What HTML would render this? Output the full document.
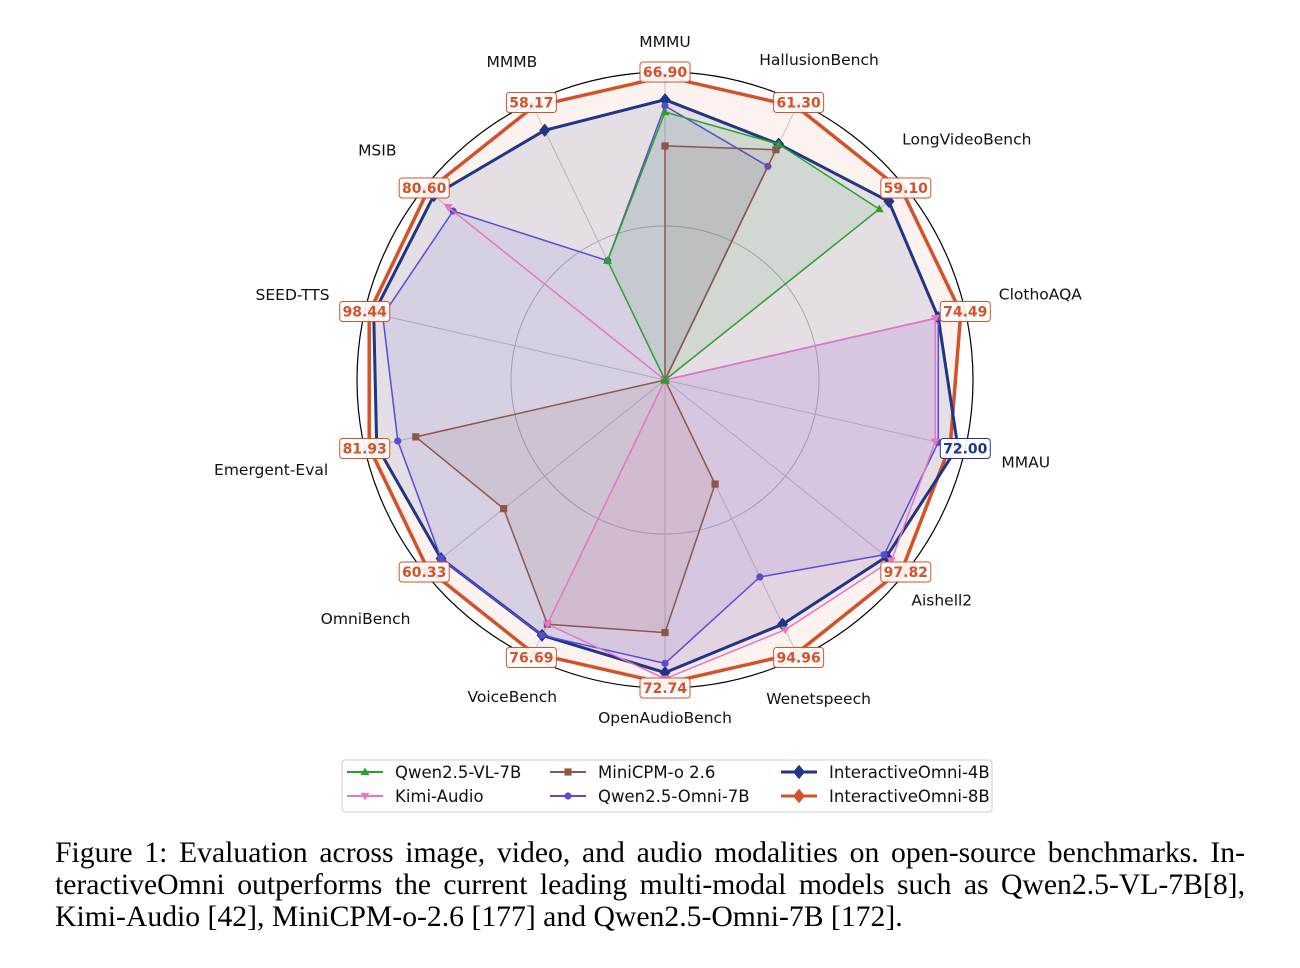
<!DOCTYPE html>
<html><head><meta charset="utf-8"><style>
body{margin:0;background:#fff;width:1300px;height:968px;overflow:hidden;position:relative}
#cap{position:absolute;left:55px;top:837px;width:1190px;font-family:"Liberation Serif",serif;font-size:29.7px;line-height:32px;color:#000}
#cap span{display:block;text-align:justify;text-align-last:justify;white-space:nowrap}
#cap span.last{text-align-last:left}
</style></head><body>
<svg id="chart" width="1300" height="830" style="position:absolute;left:0;top:0" font-family="DejaVu Sans, Liberation Sans, sans-serif"></svg>
<div id="cap"><span>Figure 1: Evaluation across image, video, and audio modalities on open-source benchmarks. In-</span><span>teractiveOmni outperforms the current leading multi-modal models such as Qwen2.5-VL-7B[8],</span><span class="last">Kimi-Audio [42], MiniCPM-o-2.6 [177] and Qwen2.5-Omni-7B [172].</span></div>
<script>
const categories=["MMMU","HallusionBench","LongVideoBench","ClothoAQA","MMAU","Aishell2","Wenetspeech","OpenAudioBench","VoiceBench","OmniBench","Emergent-Eval","SEED-TTS","MSIB","MMMB"];
const bestLabels=["66.90","61.30","59.10","74.49","72.00","97.82","94.96","72.74","76.69","60.33","81.93","98.44","80.60","58.17"];
const bestIs4B=[0,0,0,0,1,0,0,0,0,0,0,0,0,0];
const qwenVL=[0.87,0.85,0.89,0,0,0,0,0,0,0,0,0,0,0.43];
const kimi=[0,0,0,0.9,0.9,0.94,0.9,0.97,0.88,0,0,0,0.9,0];
const minicpm=[0.76,0.83,0,0,0,0,0.375,0.82,0.88,0.67,0.83,0,0,0];
const qwenOmni=[0.89,0.77,0,0.91,0.91,0.91,0.71,0.92,0.92,0.93,0.89,0.94,0.88,0.43];
const omni4b=[0.91,0.85,0.93,0.91,0.975,0.92,0.88,0.95,0.92,0.93,0.96,0.97,0.96,0.9];
const omni8b=[0.985,0.985,0.985,0.985,0.95,0.985,0.985,0.985,0.985,0.985,0.985,0.985,0.985,0.985];
const labelRadius=[338,355,386,385,370,354,354,338,352,383,404,382,368,353];
const series=[
 {name:"Qwen2.5-VL-7B",v:qwenVL,c:"#2ca02c",m:"tri-up",w:1.5},
 {name:"Kimi-Audio",v:kimi,c:"#e377c2",m:"tri-down",w:1.5},
 {name:"MiniCPM-o 2.6",v:minicpm,c:"#8c564b",m:"square",w:1.5},
 {name:"Qwen2.5-Omni-7B",v:qwenOmni,c:"#5a4bd1",m:"circle",w:1.5},
 {name:"InteractiveOmni-4B",v:omni4b,c:"#1f3585",m:"diamond",w:3},
 {name:"InteractiveOmni-8B",v:omni8b,c:"#d2522a",m:"diamond",w:3.5}];
const NS="http://www.w3.org/2000/svg",svg=document.getElementById('chart');
const cx=665,cy=380,R=308,N=categories.length;
const ang=i=>i*2*Math.PI/N;
const px=(i,v)=>cx+R*v*Math.sin(ang(i)), py=(i,v)=>cy-R*v*Math.cos(ang(i));
function mk(t,a,p){const e=document.createElementNS(NS,t);for(const k in a)e.setAttribute(k,a[k]);(p||svg).appendChild(e);return e;}
const g=mk('g',{});


mk('circle',{cx,cy,r:R*0.5,fill:'none',stroke:'#bbb','stroke-width':1},g);
for(let i=0;i<N;i++)mk('line',{x1:cx,y1:cy,x2:px(i,1),y2:py(i,1),stroke:'#ccc','stroke-width':1},g);
const oc=mk('circle',{cx,cy,r:R,fill:'none',stroke:'#000','stroke-width':1.2});


const pts=v=>v.map((d,i)=>px(i,d).toFixed(1)+','+py(i,d).toFixed(1)).join(' ');
series.slice().reverse().forEach(s=>{const f=mk('polygon',{points:pts(s.v),fill:s.c,'fill-opacity':s.name.endsWith('8B')?0.07:0.1,stroke:'none'});

});
function marker(p,m,x,y,c,s){s=s||4.5;
 if(m==='circle')return mk('circle',{cx:x,cy:y,r:s*0.8,fill:c},p);
 if(m==='square')return mk('rect',{x:x-s*0.8,y:y-s*0.8,width:s*1.6,height:s*1.6,fill:c},p);
 if(m==='tri-up')return mk('polygon',{points:`${x},${y-s} ${x-s},${y+s*0.7} ${x+s},${y+s*0.7}`,fill:c},p);
 if(m==='tri-down')return mk('polygon',{points:`${x},${y+s} ${x-s},${y-s*0.7} ${x+s},${y-s*0.7}`,fill:c},p);
 return mk('polygon',{points:`${x},${y-s*1.2} ${x+s},${y} ${x},${y+s*1.2} ${x-s},${y}`,fill:c},p);}
series.slice().reverse().forEach(s=>{const sg=mk('g',{});
 
 
 mk('polygon',{points:pts(s.v),fill:'none',stroke:s.c,'stroke-width':s.w,'stroke-linejoin':'round'},sg);
 s.v.forEach((d,i)=>{const mm=marker(sg,s.m,px(i,d),py(i,d),s.c,s.w>2?5.5:4.5);
  
  });});
categories.forEach((c,i)=>{const r=labelRadius[i];
 const t=mk('text',{x:cx+r*Math.sin(ang(i)),y:cy-r*Math.cos(ang(i))+5,'text-anchor':'middle','font-size':15.5,fill:'#111'});
 t.textContent=c;
 
 
 const bx=px(i,1),by=py(i,1),col=bestIs4B[i]?'#1f3585':'#d2522a';
 const bg=mk('g',{});
 
 
 mk('rect',{x:bx-25,y:by-10,width:50,height:20,rx:3,fill:'#fff',stroke:col,'stroke-width':1,'fill-opacity':0.9},bg);
 const vt=mk('text',{x:bx,y:by+5,'text-anchor':'middle','font-size':14,'font-weight':'bold',fill:col},bg);vt.textContent=bestLabels[i];});
const lg=mk('g',{});


mk('rect',{x:342,y:760,width:650,height:52,rx:3,fill:'#fff',stroke:'#ccc'},lg);
const colX=[347,550,781];
series.forEach((s,k)=>{const c=Math.floor(k/2),r=k%2;
 const x=colX[c],y=772+r*24;const e=mk('g',{},lg);
 
 
 mk('line',{x1:x,y1:y,x2:x+36,y2:y,stroke:s.c,'stroke-width':s.w>2?3:2},e);
 marker(e,s.m,x+18,y,s.c,s.w>2?6:4.5);
 const t=mk('text',{x:x+48,y:y+6,'font-size':16.5,fill:'#111'},e);t.textContent=s.name;});
</script>
</body></html>
